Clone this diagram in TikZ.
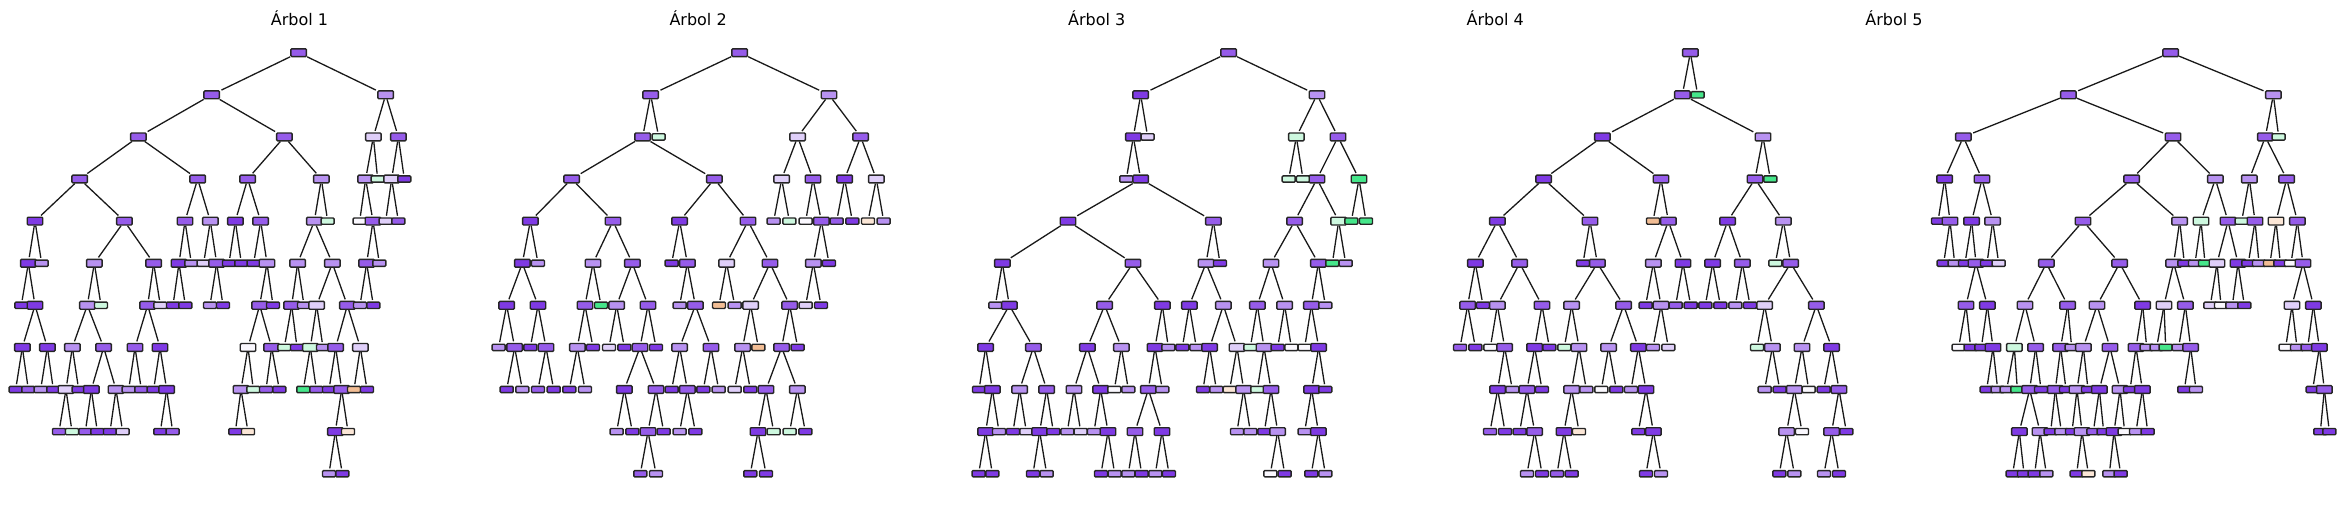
\documentclass[tikz,border=0pt]{standalone}
\usepackage{fontspec}
\setmainfont{DejaVu Sans}
\pgfdeclarelayer{bg}
\pgfsetlayers{bg,main}
\definecolor{cP}{HTML}{7F3AE4}
\definecolor{cM}{HTML}{965CEA}
\definecolor{cL}{HTML}{B892F1}
\definecolor{cV}{HTML}{DFCFF9}
\definecolor{cW}{HTML}{FAF8FE}
\definecolor{cG}{HTML}{45E68A}
\definecolor{cg}{HTML}{CDF8DF}
\definecolor{cO}{HTML}{F2BD94}
\definecolor{co}{HTML}{FBE6D6}
\tikzset{
  bx/.style={draw=black!85,line width=1.4pt,rounded corners=1pt,inner sep=0pt},
  inn/.style={bx,minimum width=15.5pt,minimum height=7.8pt},
  lf/.style={bx,minimum width=13pt,minimum height=6.3pt},
  iP/.style={inn,fill=cP},iM/.style={inn,fill=cM},iL/.style={inn,fill=cL},
  iV/.style={inn,fill=cV},iW/.style={inn,fill=cW},iG/.style={inn,fill=cG},
  ig/.style={inn,fill=cg},io/.style={inn,fill=co},
  lP/.style={lf,fill=cP},lM/.style={lf,fill=cM},lL/.style={lf,fill=cL},
  lV/.style={lf,fill=cV},lW/.style={lf,fill=cW},lG/.style={lf,fill=cG},
  lg/.style={lf,fill=cg},lO/.style={lf,fill=cO},lo/.style={lf,fill=co},
  edge/.style={line width=1.3pt,black!90,shorten >=1.5pt},
  ttl/.style={font=\fontsize{16}{18}\selectfont,inner sep=0pt}
}
\newcommand\xo{0}
\newcommand\alledges{}
\newcommand\R[4]{\node[#4] (#1#2n#3) at ({\xo+#3/3},{52.7+42.1*#2}) {};}
\newcommand\K[6]{\node[#6] (#1#2n#3) at ({\xo+#3/3},{52.7+42.1*#2}) {};%
  \expandafter\gdef\expandafter\alledges\expandafter{\alledges\draw[edge] (#1#4n#5) -- (#1#2n#3);}}
\begin{document}
\begin{tikzpicture}[x=1pt,y=-1pt]
\useasboundingbox (0,0) rectangle (2345,504);
\node[ttl] (t1) at (299.5,18) {Árbol 1};
\node[ttl] (t2) at (698.1,18) {Árbol 2};
\node[ttl] (t3) at (1096.7,18) {Árbol 3};
\node[ttl] (t4) at (1495.3,18) {Árbol 4};
\node[ttl] (t5) at (1893.9,18) {Árbol 5};
% ---------------- Tree 1
\renewcommand\xo{0}
\R{a}{0}{896}{iM}
\K{a}{1}{635}{0}{896}{iM}\K{a}{1}{1157}{0}{896}{iL}
\K{a}{2}{415}{1}{635}{iM}\K{a}{2}{853}{1}{635}{iM}\K{a}{2}{1120}{1}{1157}{iV}\K{a}{2}{1195}{1}{1157}{iM}
\K{a}{3}{239}{2}{415}{iM}\K{a}{3}{593}{2}{415}{iM}\K{a}{3}{743}{2}{853}{iM}\K{a}{3}{964}{2}{853}{iL}
\K{a}{3}{1097}{2}{1120}{iL}\K{a}{3}{1133}{2}{1120}{lg}\K{a}{3}{1175}{2}{1195}{iV}\K{a}{3}{1213}{2}{1195}{lP}
\K{a}{4}{105}{3}{239}{iP}\K{a}{4}{373}{3}{239}{iM}\K{a}{4}{555}{3}{593}{iM}\K{a}{4}{631}{3}{593}{iL}
\K{a}{4}{706}{3}{743}{iP}\K{a}{4}{782}{3}{743}{iM}\K{a}{4}{943}{3}{964}{iL}\K{a}{4}{983}{3}{964}{lg}
\K{a}{4}{1079}{3}{1097}{lW}\K{a}{4}{1119}{3}{1097}{iM}\K{a}{4}{1157}{3}{1175}{lV}\K{a}{4}{1195}{3}{1175}{lM}
\K{a}{5}{85}{4}{105}{iP}\K{a}{5}{125}{4}{105}{lL}\K{a}{5}{283}{4}{373}{iL}\K{a}{5}{461}{4}{373}{iM}
\K{a}{5}{537}{4}{555}{iP}\K{a}{5}{574}{4}{555}{lL}\K{a}{5}{611}{4}{631}{lV}\K{a}{5}{650}{4}{631}{iM}
\K{a}{5}{687}{4}{706}{lP}\K{a}{5}{724}{4}{706}{lP}\K{a}{5}{761}{4}{782}{lP}\K{a}{5}{801}{4}{782}{iL}
\K{a}{5}{893}{4}{943}{iL}\K{a}{5}{997}{4}{943}{iL}\K{a}{5}{1100}{4}{1119}{iM}\K{a}{5}{1138}{4}{1119}{lL}
\K{a}{6}{64}{5}{85}{lP}\K{a}{6}{105}{5}{85}{iP}\K{a}{6}{262}{5}{283}{iL}\K{a}{6}{303}{5}{283}{lg}
\K{a}{6}{443}{5}{461}{iM}\K{a}{6}{481}{5}{461}{lV}\K{a}{6}{519}{5}{537}{lP}\K{a}{6}{556}{5}{537}{lP}
\K{a}{6}{630}{5}{650}{lL}\K{a}{6}{669}{5}{650}{lP}\K{a}{6}{779}{5}{801}{iM}\K{a}{6}{819}{5}{801}{lP}
\K{a}{6}{875}{5}{893}{iM}\K{a}{6}{912}{5}{893}{lL}\K{a}{6}{950}{5}{997}{iV}\K{a}{6}{1042}{5}{997}{iM}
\K{a}{6}{1080}{5}{1100}{lL}\K{a}{6}{1120}{5}{1100}{lP}
\K{a}{7}{67}{6}{105}{iP}\K{a}{7}{142}{6}{105}{iP}\K{a}{7}{217}{6}{262}{iL}\K{a}{7}{311}{6}{262}{iM}
\K{a}{7}{405}{6}{443}{iM}\K{a}{7}{480}{6}{443}{iP}\K{a}{7}{744}{6}{779}{iW}\K{a}{7}{815}{6}{779}{iM}
\K{a}{7}{853}{6}{875}{lg}\K{a}{7}{891}{6}{875}{lP}\K{a}{7}{931}{6}{950}{ig}\K{a}{7}{969}{6}{950}{lL}
\K{a}{7}{1007}{6}{1042}{iM}\K{a}{7}{1081}{6}{1042}{iV}
\K{a}{8}{47}{7}{67}{lP}\K{a}{8}{85}{7}{67}{lM}\K{a}{8}{122}{7}{142}{lL}\K{a}{8}{160}{7}{142}{lP}
\K{a}{8}{198}{7}{217}{iV}\K{a}{8}{236}{7}{217}{lP}\K{a}{8}{274}{7}{311}{iP}\K{a}{8}{348}{7}{311}{iL}
\K{a}{8}{386}{7}{405}{lL}\K{a}{8}{424}{7}{405}{lM}\K{a}{8}{461}{7}{480}{lP}\K{a}{8}{500}{7}{480}{iP}
\K{a}{8}{723}{7}{744}{iL}\K{a}{8}{760}{7}{744}{lg}\K{a}{8}{798}{7}{815}{lM}\K{a}{8}{838}{7}{815}{lP}
\K{a}{8}{910}{7}{931}{lG}\K{a}{8}{949}{7}{931}{lM}\K{a}{8}{987}{7}{1007}{lP}\K{a}{8}{1025}{7}{1007}{iM}
\K{a}{8}{1062}{7}{1081}{lO}\K{a}{8}{1101}{7}{1081}{lP}
\K{a}{9}{177}{8}{198}{lM}\K{a}{9}{216}{8}{198}{lg}\K{a}{9}{256}{8}{274}{lM}\K{a}{9}{292}{8}{274}{lP}
\K{a}{9}{330}{8}{348}{lP}\K{a}{9}{368}{8}{348}{lV}\K{a}{9}{481}{8}{500}{lP}\K{a}{9}{518}{8}{500}{lM}
\K{a}{9}{706}{8}{723}{lP}\K{a}{9}{744}{8}{723}{lo}\K{a}{9}{1006}{8}{1025}{iP}\K{a}{9}{1044}{8}{1025}{lo}
\K{a}{10}{987}{9}{1006}{lL}\K{a}{10}{1027}{9}{1006}{lP}
% ---------------- Tree 2
\renewcommand\xo{469}
\R{b}{0}{812}{iM}
\K{b}{1}{545}{0}{812}{iM}\K{b}{1}{1080}{0}{812}{iL}
\K{b}{2}{521}{1}{545}{iM}\K{b}{2}{569}{1}{545}{lg}\K{b}{2}{986}{1}{1080}{iV}\K{b}{2}{1175}{1}{1080}{iM}
\K{b}{3}{308}{2}{521}{iM}\K{b}{3}{736}{2}{521}{iM}\K{b}{3}{938}{2}{986}{iV}\K{b}{3}{1032}{2}{986}{iM}
\K{b}{3}{1127}{2}{1175}{iP}\K{b}{3}{1222}{2}{1175}{iV}
\K{b}{4}{184}{3}{308}{iP}\K{b}{4}{432}{3}{308}{iM}\K{b}{4}{632}{3}{736}{iP}\K{b}{4}{837}{3}{736}{iM}
\K{b}{4}{914}{3}{938}{lL}\K{b}{4}{961}{3}{938}{lg}\K{b}{4}{1010}{3}{1032}{lW}\K{b}{4}{1057}{3}{1032}{iM}
\K{b}{4}{1103}{3}{1127}{lM}\K{b}{4}{1150}{3}{1127}{lP}\K{b}{4}{1197}{3}{1222}{lo}\K{b}{4}{1244}{3}{1222}{lL}
\K{b}{5}{160}{4}{184}{iP}\K{b}{5}{207}{4}{184}{lL}\K{b}{5}{372}{4}{432}{iL}\K{b}{5}{490}{4}{432}{iM}
\K{b}{5}{608}{4}{632}{lP}\K{b}{5}{655}{4}{632}{iM}\K{b}{5}{773}{4}{837}{iV}\K{b}{5}{903}{4}{837}{iM}
\K{b}{5}{1033}{4}{1057}{iL}\K{b}{5}{1080}{4}{1057}{lP}
\K{b}{6}{113}{5}{160}{iP}\K{b}{6}{207}{5}{160}{iP}\K{b}{6}{348}{5}{372}{iM}\K{b}{6}{396}{5}{372}{lG}
\K{b}{6}{443}{5}{490}{iL}\K{b}{6}{537}{5}{490}{iM}\K{b}{6}{632}{5}{655}{lL}\K{b}{6}{679}{5}{655}{iM}
\K{b}{6}{750}{5}{773}{lO}\K{b}{6}{797}{5}{773}{lL}\K{b}{6}{845}{5}{903}{iV}\K{b}{6}{962}{5}{903}{iM}
\K{b}{6}{1010}{5}{1033}{lV}\K{b}{6}{1056}{5}{1033}{lP}
\K{b}{7}{89}{6}{113}{lL}\K{b}{7}{137}{6}{113}{iM}\K{b}{7}{184}{6}{207}{lP}\K{b}{7}{231}{6}{207}{iM}
\K{b}{7}{325}{6}{348}{iL}\K{b}{7}{372}{6}{348}{lP}\K{b}{7}{420}{6}{443}{lV}\K{b}{7}{466}{6}{443}{lP}
\K{b}{7}{513}{6}{537}{iM}\K{b}{7}{561}{6}{537}{lP}\K{b}{7}{632}{6}{679}{iL}\K{b}{7}{726}{6}{679}{iM}
\K{b}{7}{821}{6}{845}{iL}\K{b}{7}{868}{6}{845}{lO}\K{b}{7}{938}{6}{962}{iM}\K{b}{7}{986}{6}{962}{lP}
\K{b}{8}{113}{7}{137}{lP}\K{b}{8}{160}{7}{137}{lL}\K{b}{8}{207}{7}{231}{lM}\K{b}{8}{254}{7}{231}{lP}
\K{b}{8}{301}{7}{325}{lP}\K{b}{8}{348}{7}{325}{lL}\K{b}{8}{466}{7}{513}{iP}\K{b}{8}{561}{7}{513}{iM}
\K{b}{8}{608}{7}{632}{lP}\K{b}{8}{655}{7}{632}{iM}\K{b}{8}{703}{7}{726}{lP}\K{b}{8}{749}{7}{726}{lL}
\K{b}{8}{797}{7}{821}{lV}\K{b}{8}{844}{7}{821}{lP}\K{b}{8}{891}{7}{938}{iM}\K{b}{8}{985}{7}{938}{iL}
\K{b}{9}{443}{8}{466}{lL}\K{b}{9}{490}{8}{466}{lP}\K{b}{9}{537}{8}{561}{iM}\K{b}{9}{584}{8}{561}{lP}
\K{b}{9}{632}{8}{655}{lL}\K{b}{9}{679}{8}{655}{lP}\K{b}{9}{867}{8}{891}{iP}\K{b}{9}{914}{8}{891}{lg}
\K{b}{9}{962}{8}{985}{lg}\K{b}{9}{1009}{8}{985}{lP}
\K{b}{10}{514}{9}{537}{lM}\K{b}{10}{561}{9}{537}{lL}\K{b}{10}{844}{9}{867}{lP}\K{b}{10}{891}{9}{867}{lP}
% ---------------- Tree 3
\renewcommand\xo{938}
\R{c}{0}{872}{iM}
\K{c}{1}{608}{0}{872}{iP}\K{c}{1}{1137}{0}{872}{iL}
\K{c}{2}{586}{1}{608}{iP}\K{c}{2}{629}{1}{608}{lV}\K{c}{2}{1075}{1}{1137}{ig}\K{c}{2}{1200}{1}{1137}{iM}
\K{c}{3}{565}{2}{586}{lL}\K{c}{3}{608}{2}{586}{iP}\K{c}{3}{1052}{2}{1075}{lg}\K{c}{3}{1095}{2}{1075}{lg}
\K{c}{3}{1137}{2}{1200}{iM}\K{c}{3}{1263}{2}{1200}{iG}
\K{c}{4}{390}{3}{608}{iP}\K{c}{4}{826}{3}{608}{iM}\K{c}{4}{1070}{3}{1137}{iM}\K{c}{4}{1202}{3}{1137}{ig}
\K{c}{4}{1240}{3}{1263}{lG}\K{c}{4}{1284}{3}{1263}{lG}
\K{c}{5}{193}{4}{390}{iP}\K{c}{5}{585}{4}{390}{iM}\K{c}{5}{804}{4}{826}{iL}\K{c}{5}{846}{4}{826}{lP}
\K{c}{5}{999}{4}{1070}{iL}\K{c}{5}{1141}{4}{1070}{iM}\K{c}{5}{1183}{4}{1202}{lG}\K{c}{5}{1223}{4}{1202}{lL}
\K{c}{6}{172}{5}{193}{lL}\K{c}{6}{214}{5}{193}{iP}\K{c}{6}{500}{5}{585}{iM}\K{c}{6}{673}{5}{585}{iP}
\K{c}{6}{754}{5}{804}{iP}\K{c}{6}{856}{5}{804}{iL}\K{c}{6}{958}{5}{999}{iM}\K{c}{6}{1040}{5}{999}{iL}
\K{c}{6}{1120}{5}{1141}{iM}\K{c}{6}{1162}{5}{1141}{lL}
\K{c}{7}{143}{6}{214}{iP}\K{c}{7}{286}{6}{214}{iM}\K{c}{7}{448}{6}{500}{iP}\K{c}{7}{550}{6}{500}{iL}
\K{c}{7}{651}{6}{673}{iP}\K{c}{7}{691}{6}{673}{lL}\K{c}{7}{733}{6}{754}{lP}\K{c}{7}{775}{6}{754}{lL}
\K{c}{7}{815}{6}{856}{iP}\K{c}{7}{897}{6}{856}{iV}\K{c}{7}{937}{6}{958}{lg}\K{c}{7}{978}{6}{958}{iL}
\K{c}{7}{1019}{6}{1040}{lP}\K{c}{7}{1060}{6}{1040}{lW}\K{c}{7}{1100}{6}{1120}{lW}\K{c}{7}{1142}{6}{1120}{iP}
\K{c}{8}{123}{7}{143}{lP}\K{c}{8}{163}{7}{143}{iP}\K{c}{8}{245}{7}{286}{iL}\K{c}{8}{326}{7}{286}{iM}
\K{c}{8}{408}{7}{448}{iL}\K{c}{8}{488}{7}{448}{iP}\K{c}{8}{529}{7}{550}{lW}\K{c}{8}{571}{7}{550}{lL}
\K{c}{8}{631}{7}{651}{iM}\K{c}{8}{673}{7}{651}{lL}\K{c}{8}{795}{7}{815}{lP}\K{c}{8}{835}{7}{815}{lL}
\K{c}{8}{875}{7}{897}{lo}\K{c}{8}{917}{7}{897}{iL}\K{c}{8}{958}{7}{978}{lg}\K{c}{8}{999}{7}{978}{iM}
\K{c}{8}{1121}{7}{1142}{iP}\K{c}{8}{1162}{7}{1142}{lP}
\K{c}{9}{143}{8}{163}{iP}\K{c}{9}{183}{8}{163}{lL}\K{c}{9}{225}{8}{245}{lP}\K{c}{9}{265}{8}{245}{lV}
\K{c}{9}{305}{8}{326}{iP}\K{c}{9}{346}{8}{326}{lP}\K{c}{9}{388}{8}{408}{lL}\K{c}{9}{428}{8}{408}{lV}
\K{c}{9}{468}{8}{488}{lL}\K{c}{9}{510}{8}{488}{iP}\K{c}{9}{591}{8}{631}{iM}\K{c}{9}{672}{8}{631}{iP}
\K{c}{9}{897}{8}{917}{lL}\K{c}{9}{937}{8}{917}{lL}\K{c}{9}{979}{8}{999}{lP}\K{c}{9}{1019}{8}{999}{iL}
\K{c}{9}{1100}{8}{1121}{lL}\K{c}{9}{1141}{8}{1121}{iP}
\K{c}{10}{122}{9}{143}{lP}\K{c}{10}{163}{9}{143}{lP}\K{c}{10}{285}{9}{305}{lP}\K{c}{10}{326}{9}{305}{lL}
\K{c}{10}{489}{9}{510}{lP}\K{c}{10}{530}{9}{510}{lL}\K{c}{10}{571}{9}{591}{lL}\K{c}{10}{611}{9}{591}{lP}
\K{c}{10}{652}{9}{672}{lL}\K{c}{10}{693}{9}{672}{lP}\K{c}{10}{997}{9}{1019}{lW}\K{c}{10}{1040}{9}{1019}{lP}
\K{c}{10}{1120}{9}{1141}{lP}\K{c}{10}{1162}{9}{1141}{lL}
% ---------------- Tree 4
\renewcommand\xo{1407}
\R{d}{0}{850}{iM}
\K{d}{1}{826}{0}{850}{iM}\K{d}{1}{872}{0}{850}{lG}
\K{d}{2}{586}{1}{826}{iP}\K{d}{2}{1068}{1}{826}{iL}
\K{d}{3}{410}{2}{586}{iP}\K{d}{3}{762}{2}{586}{iM}\K{d}{3}{1044}{2}{1068}{iM}\K{d}{3}{1090}{2}{1068}{lG}
\K{d}{4}{271}{3}{410}{iP}\K{d}{4}{549}{3}{410}{iM}\K{d}{4}{738}{3}{762}{lO}\K{d}{4}{784}{3}{762}{iM}
\K{d}{4}{962}{3}{1044}{iP}\K{d}{4}{1129}{3}{1044}{iL}
\K{d}{5}{205}{4}{271}{iP}\K{d}{5}{338}{4}{271}{iM}\K{d}{5}{528}{4}{549}{lP}\K{d}{5}{571}{4}{549}{iM}
\K{d}{5}{739}{4}{784}{iL}\K{d}{5}{828}{4}{784}{iP}\K{d}{5}{917}{4}{962}{iP}\K{d}{5}{1006}{4}{962}{iM}
\K{d}{5}{1105}{4}{1129}{lg}\K{d}{5}{1151}{4}{1129}{iM}
\K{d}{6}{182}{5}{205}{iM}\K{d}{6}{228}{5}{205}{lP}\K{d}{6}{271}{5}{338}{iL}\K{d}{6}{405}{5}{338}{iM}
\K{d}{6}{494}{5}{571}{iL}\K{d}{6}{650}{5}{571}{iM}\K{d}{6}{716}{5}{739}{lP}\K{d}{6}{762}{5}{739}{iL}
\K{d}{6}{806}{5}{828}{lM}\K{d}{6}{851}{5}{828}{lP}\K{d}{6}{895}{5}{917}{lP}\K{d}{6}{940}{5}{917}{lP}
\K{d}{6}{985}{5}{1006}{lL}\K{d}{6}{1029}{5}{1006}{lP}\K{d}{6}{1073}{5}{1151}{iV}\K{d}{6}{1228}{5}{1151}{iM}
\K{d}{7}{159}{6}{182}{lM}\K{d}{7}{205}{6}{182}{lP}\K{d}{7}{250}{6}{271}{lW}\K{d}{7}{293}{6}{271}{iM}
\K{d}{7}{383}{6}{405}{iP}\K{d}{7}{427}{6}{405}{lP}\K{d}{7}{472}{6}{494}{lg}\K{d}{7}{516}{6}{494}{iL}
\K{d}{7}{605}{6}{650}{iL}\K{d}{7}{694}{6}{650}{iP}\K{d}{7}{738}{6}{762}{lL}\K{d}{7}{784}{6}{762}{lV}
\K{d}{7}{1050}{6}{1073}{lg}\K{d}{7}{1096}{6}{1073}{iL}\K{d}{7}{1185}{6}{1228}{iL}\K{d}{7}{1274}{6}{1228}{iP}
\K{d}{8}{272}{7}{293}{iP}\K{d}{8}{316}{7}{293}{lL}\K{d}{8}{360}{7}{383}{iM}\K{d}{8}{405}{7}{383}{lP}
\K{d}{8}{494}{7}{516}{iL}\K{d}{8}{538}{7}{516}{lL}\K{d}{8}{583}{7}{605}{lW}\K{d}{8}{628}{7}{605}{lP}
\K{d}{8}{672}{7}{694}{lL}\K{d}{8}{717}{7}{694}{iP}\K{d}{8}{1073}{7}{1096}{lL}\K{d}{8}{1118}{7}{1096}{lP}
\K{d}{8}{1162}{7}{1185}{iL}\K{d}{8}{1205}{7}{1185}{lW}\K{d}{8}{1250}{7}{1274}{lP}\K{d}{8}{1296}{7}{1274}{iM}
\K{d}{9}{249}{8}{272}{lM}\K{d}{9}{294}{8}{272}{lP}\K{d}{9}{338}{8}{360}{lP}\K{d}{9}{383}{8}{360}{iM}
\K{d}{9}{471}{8}{494}{iP}\K{d}{9}{516}{8}{494}{lo}\K{d}{9}{694}{8}{717}{lP}\K{d}{9}{739}{8}{717}{iP}
\K{d}{9}{1139}{8}{1162}{iL}\K{d}{9}{1185}{8}{1162}{lW}\K{d}{9}{1274}{8}{1296}{iM}\K{d}{9}{1318}{8}{1296}{lP}
\K{d}{10}{360}{9}{383}{lL}\K{d}{10}{405}{9}{383}{lP}\K{d}{10}{450}{9}{471}{lM}\K{d}{10}{494}{9}{471}{lP}
\K{d}{10}{717}{9}{739}{lP}\K{d}{10}{762}{9}{739}{lL}\K{d}{10}{1117}{9}{1139}{lP}\K{d}{10}{1162}{9}{1139}{lL}
\K{d}{10}{1251}{9}{1274}{lL}\K{d}{10}{1296}{9}{1274}{lP}
% ---------------- Tree 5
\renewcommand\xo{1876}
\R{e}{0}{884}{iM}
\K{e}{1}{577}{0}{884}{iM}\K{e}{1}{1192}{0}{884}{iL}
\K{e}{2}{262}{1}{577}{iM}\K{e}{2}{891}{1}{577}{iM}\K{e}{2}{1168}{1}{1192}{iM}\K{e}{2}{1208}{1}{1192}{lg}
\K{e}{3}{206}{2}{262}{iP}\K{e}{3}{318}{2}{262}{iM}\K{e}{3}{767}{2}{891}{iM}\K{e}{3}{1018}{2}{891}{iL}
\K{e}{3}{1120}{2}{1168}{iL}\K{e}{3}{1232}{2}{1168}{iM}
\K{e}{4}{186}{3}{206}{lP}\K{e}{4}{222}{3}{206}{iM}\K{e}{4}{287}{3}{318}{iP}\K{e}{4}{350}{3}{318}{iL}
\K{e}{4}{621}{3}{767}{iM}\K{e}{4}{911}{3}{767}{iL}\K{e}{4}{975}{3}{1018}{ig}\K{e}{4}{1056}{3}{1018}{iM}
\K{e}{4}{1097}{3}{1120}{lg}\K{e}{4}{1137}{3}{1120}{iM}\K{e}{4}{1200}{3}{1232}{io}\K{e}{4}{1264}{3}{1232}{iM}
\K{e}{5}{203}{4}{222}{lP}\K{e}{5}{236}{4}{222}{lL}\K{e}{5}{267}{4}{287}{lP}\K{e}{5}{300}{4}{287}{iM}
\K{e}{5}{333}{4}{350}{lP}\K{e}{5}{368}{4}{350}{lV}\K{e}{5}{511}{4}{621}{iM}\K{e}{5}{731}{4}{621}{iM}
\K{e}{5}{893}{4}{911}{iL}\K{e}{5}{925}{4}{911}{lP}\K{e}{5}{957}{4}{975}{lL}\K{e}{5}{987}{4}{975}{lG}
\K{e}{5}{1023}{4}{1056}{iV}\K{e}{5}{1086}{4}{1056}{iP}\K{e}{5}{1117}{4}{1137}{lP}\K{e}{5}{1149}{4}{1137}{lL}
\K{e}{5}{1182}{4}{1200}{lO}\K{e}{5}{1213}{4}{1200}{lP}\K{e}{5}{1245}{4}{1264}{lW}\K{e}{5}{1281}{4}{1264}{iM}
\K{e}{6}{270}{5}{300}{iM}\K{e}{6}{334}{5}{300}{iP}\K{e}{6}{447}{5}{511}{iL}\K{e}{6}{575}{5}{511}{iM}
\K{e}{6}{663}{5}{731}{iL}\K{e}{6}{800}{5}{731}{iP}\K{e}{6}{864}{5}{893}{iV}\K{e}{6}{928}{5}{893}{iM}
\K{e}{6}{1003}{5}{1023}{lV}\K{e}{6}{1035}{5}{1023}{lW}\K{e}{6}{1069}{5}{1086}{lL}\K{e}{6}{1105}{5}{1086}{lP}
\K{e}{6}{1248}{5}{1281}{iV}\K{e}{6}{1312}{5}{1281}{iP}
\K{e}{7}{248}{6}{270}{lW}\K{e}{7}{284}{6}{270}{lP}\K{e}{7}{316}{6}{334}{lP}\K{e}{7}{351}{6}{334}{iP}
\K{e}{7}{415}{6}{447}{ig}\K{e}{7}{479}{6}{447}{iM}\K{e}{7}{554}{6}{575}{iM}\K{e}{7}{587}{6}{575}{lL}
\K{e}{7}{622}{6}{663}{iL}\K{e}{7}{702}{6}{663}{iM}\K{e}{7}{780}{6}{800}{iM}\K{e}{7}{812}{6}{800}{lL}
\K{e}{7}{842}{6}{864}{lL}\K{e}{7}{869}{6}{864}{lG}\K{e}{7}{908}{6}{928}{lL}\K{e}{7}{944}{6}{928}{iM}
\K{e}{7}{1229}{6}{1248}{lW}\K{e}{7}{1263}{6}{1248}{lL}\K{e}{7}{1295}{6}{1312}{lM}\K{e}{7}{1330}{6}{1312}{iP}
\K{e}{8}{332}{7}{351}{lP}\K{e}{8}{365}{7}{351}{lL}\K{e}{8}{392}{7}{415}{lL}\K{e}{8}{424}{7}{415}{lG}
\K{e}{8}{461}{7}{479}{iM}\K{e}{8}{495}{7}{479}{lP}\K{e}{8}{538}{7}{554}{iM}\K{e}{8}{570}{7}{554}{lP}
\K{e}{8}{603}{7}{622}{iL}\K{e}{8}{636}{7}{622}{lP}\K{e}{8}{670}{7}{702}{iP}\K{e}{8}{732}{7}{702}{iL}
\K{e}{8}{762}{7}{780}{lP}\K{e}{8}{799}{7}{780}{iP}\K{e}{8}{925}{7}{944}{lP}\K{e}{8}{960}{7}{944}{lL}
\K{e}{8}{1310}{7}{1330}{lP}\K{e}{8}{1345}{7}{1330}{iM}
\K{e}{9}{430}{8}{461}{iP}\K{e}{9}{492}{8}{461}{iL}\K{e}{9}{524}{8}{538}{lP}\K{e}{9}{556}{8}{538}{lL}
\K{e}{9}{588}{8}{603}{lP}\K{e}{9}{618}{8}{603}{iL}\K{e}{9}{652}{8}{670}{lM}\K{e}{9}{683}{8}{670}{lP}
\K{e}{9}{714}{8}{732}{iP}\K{e}{9}{746}{8}{732}{lW}\K{e}{9}{780}{8}{799}{lL}\K{e}{9}{815}{8}{799}{lP}
\K{e}{9}{1333}{8}{1345}{lP}\K{e}{9}{1360}{8}{1345}{lP}
\K{e}{10}{410}{9}{430}{lP}\K{e}{10}{444}{9}{430}{lP}\K{e}{10}{476}{9}{492}{lP}\K{e}{10}{511}{9}{492}{lL}
\K{e}{10}{602}{9}{618}{lP}\K{e}{10}{637}{9}{618}{lo}\K{e}{10}{700}{9}{714}{lL}\K{e}{10}{734}{9}{714}{lP}
\begin{pgfonlayer}{bg}
\alledges
\end{pgfonlayer}
\end{tikzpicture}
\end{document}
